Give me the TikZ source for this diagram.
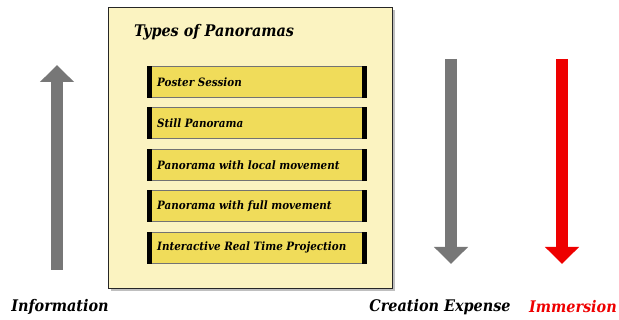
\documentclass[tikz,border=0pt]{standalone}
\usepackage{fontspec}
\setmainfont{DejaVu Serif Condensed}
\usetikzlibrary{arrows.meta,shadows}
\definecolor{boxfill}{HTML}{FBF3C1}
\definecolor{itemfill}{HTML}{F0DC5A}
\definecolor{arrowgray}{HTML}{777777}
\definecolor{immred}{HTML}{EE0000}
\tikzset{
  x=1pt, y=-1pt,
  panel/.style={draw=black!85, line width=1.2pt, fill=boxfill, drop shadow={shadow xshift=2pt, shadow yshift=-2pt, fill=black!50}},
  itembox/.style={draw=black!55, line width=0.6pt, fill=itemfill, minimum width=219pt, minimum height=31pt, inner sep=0pt, anchor=north west},
  itemtext/.style={font=\bfseries\itshape\fontsize{11.5}{13}\selectfont, anchor=west, inner sep=0pt},
  bigarrow/.style={line width=12pt, -{Triangle[width=33pt,length=17pt]}},
  label/.style={font=\bfseries\itshape\fontsize{16}{18}\selectfont, inner sep=0pt}
}
\newcommand{\itembar}[1]{%
  \fill[black] (#1.north west) rectangle ([xshift=5pt]#1.south west);
  \fill[black] ([xshift=-5pt]#1.north east) rectangle (#1.south east);}
\begin{document}
\begin{tikzpicture}
\useasboundingbox (0,0) rectangle (619,320);
% panel
\node[panel, minimum width=284pt, minimum height=281pt, anchor=north west, inner sep=0pt] (panel) at (108,7) {};
\node[font=\bfseries\itshape\fontsize{16}{18}\selectfont, anchor=west, inner sep=0pt] (title) at (134,32) {Types of Panoramas};
% items
\node[itembox] (i1) at (147,66) {};
\node[itembox] (i2) at (147,107.5) {};
\node[itembox] (i3) at (147,149) {};
\node[itembox] (i4) at (147,190.5) {};
\node[itembox] (i5) at (147,232) {};
\itembar{i1}\itembar{i2}\itembar{i3}\itembar{i4}\itembar{i5}
\node[itemtext] (t1) at ([xshift=10pt]i1.west) {Poster Session};
\node[itemtext] (t2) at ([xshift=10pt]i2.west) {Still Panorama};
\node[itemtext] (t3) at ([xshift=10pt]i3.west) {Panorama with local movement};
\node[itemtext] (t4) at ([xshift=10pt]i4.west) {Panorama with full movement};
\node[itemtext] (t5) at ([xshift=10pt]i5.west) {Interactive Real Time Projection};
% arrows
\coordinate (a1s) at (57,270);
\coordinate (a1e) at (57,65);
\coordinate (a2s) at (451,59);
\coordinate (a2e) at (451,264);
\coordinate (a3s) at (562,59);
\coordinate (a3e) at (562,264);
\draw[bigarrow, arrowgray] (a1s) -- (a1e);
\draw[bigarrow, arrowgray] (a2s) -- (a2e);
\draw[bigarrow, immred] (a3s) -- (a3e);
% labels
\node[label] (info) at (60,307) {Information};
\node[label] (cost) at (440,307) {Creation Expense};
\node[label, text=immred] (imm) at (573,307) {Immersion};
\end{tikzpicture}
\end{document}
